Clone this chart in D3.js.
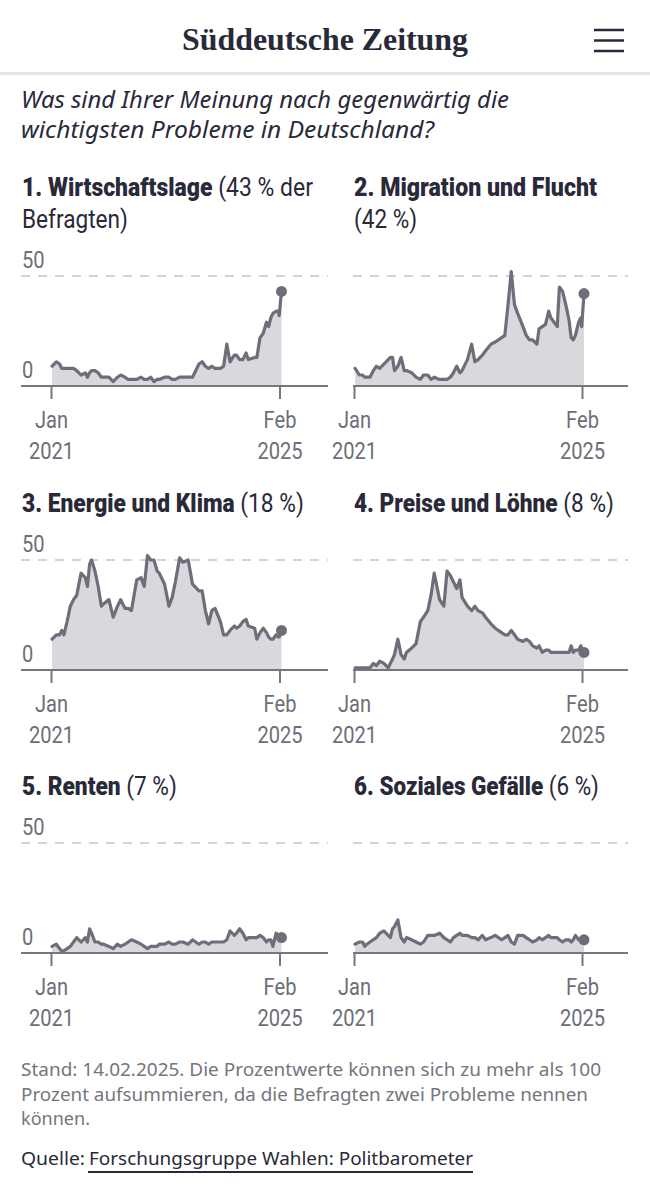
<!DOCTYPE html>
<html><head><meta charset="utf-8">
<script src="https://cdn.jsdelivr.net/npm/d3@7"></script>
<style>
html,body{margin:0;padding:0;background:#fff;}
svg{display:block;}
</style></head><body>
<svg id="c" width="650" height="1199"></svg>
<script>
// ---- data (Politbarometer survey dates, share of respondents in %) ----
const dates = [
 "2021-01-08","2021-02-05","2021-02-26","2021-03-12","2021-03-26","2021-04-16","2021-05-07","2021-05-28","2021-06-18","2021-07-16","2021-08-13","2021-08-27","2021-09-10","2021-09-23","2021-10-15","2021-11-05","2021-11-26","2021-12-10",
 "2022-01-14","2022-02-11","2022-03-11","2022-04-01","2022-04-29","2022-05-20","2022-06-10","2022-07-15","2022-08-12","2022-09-02","2022-09-23","2022-10-14","2022-11-04","2022-11-25","2022-12-09",
 "2023-01-13","2023-02-10","2023-03-03","2023-03-24","2023-04-21","2023-05-12","2023-06-16","2023-07-14","2023-08-25","2023-09-15","2023-10-06","2023-10-27","2023-11-17","2023-12-08",
 "2024-01-12","2024-02-02","2024-02-23","2024-03-15","2024-04-12","2024-04-26","2024-05-17","2024-06-07","2024-06-28","2024-07-12","2024-08-23","2024-09-06","2024-09-27","2024-10-18","2024-11-08","2024-11-22","2024-12-06","2024-12-20",
 "2025-01-10","2025-01-24","2025-01-30","2025-02-14"
];
const wirtschaftslage = [9,11,10,8,8,8,8,8,7,5,6,4,6,7,7,6,4,4, 4,2,4,5,4,3,3,3,4,3,3,4,2,3,3, 4,4,3,3,4,4,4,4,10,11,9,8,9,8, 8,9,19,11,14,14,12,12,15,12,13,13,22,24,29,27,31,33, 34,34,32,43];
const migration = [8,5,5,4,4,4,7,9,8,10,12,13,13,7,9,13,7,7, 6,4,3,5,5,3,4,3,3,3,4,6,9,6,7, 12,19,11,12,14,16,19,20,22,23,37,52,37,33, 27,23,21,21,19,26,27,28,34,31,27,45,43,37,30,22,21,23, 29,31,27,42];
const energieKlima = [14,16,16,18,16,22,29,32,34,44,42,38,48,50,45,38,29,30, 32,24,29,32,28,28,27,41,42,38,52,50,50,45,44, 39,29,33,40,51,49,50,39,36,36,27,21,27,28, 22,16,16,18,20,19,20,22,23,20,19,14,17,19,17,15,14,14, 16,15,15,18];
const preiseLoehne = [1,1,1,1,1,1,3,2,4,3,1,3,5,7,14,7,5,8, 10,12,22,24,27,34,44,32,29,45,43,40,37,41,33, 29,27,29,27,26,24,21,19,17,16,16,18,16,14, 13,14,13,11,10,11,8,9,9,8,8,8,8,8,8,11,8,9, 9,11,10,8];
const renten = [3,4,2,1,1,2,3,5,7,5,7,5,11,9,5,5,4,4, 3,2,4,3,4,5,6,5,4,3,2,3,3,3,4, 4,5,4,4,5,5,4,6,4,5,5,4,5,5, 5,5,6,10,8,9,11,9,6,7,7,7,8,7,5,6,6,3, 9,8,7,7];
const sozialesGefaelle = [4,5,5,3,4,5,6,7,9,10,8,7,11,12,15,7,5,7, 6,5,4,5,8,8,8,9,7,6,5,7,8,9,8, 8,7,7,6,8,6,7,8,6,7,8,5,4,8, 8,7,6,5,6,7,6,7,8,7,7,6,5,6,6,5,6,8, 6,6,7,6];

const yTicks = [0, 50];
const xTickDates = ["2021-01-01", "2025-02-01"];
const xTickLabels = [["Jan","2021"],["Feb","2025"]];

const seriesList = [wirtschaftslage, migration, energieKlima, preiseLoehne, renten, sozialesGefaelle];
const titles = [
  [[["1. Wirtschaftslage",true],[" (43 % der",false]], [["Befragten)",false]]],
  [[["2. Migration und Flucht",true]], [["(42 %)",false]]],
  [[["3. Energie und Klima",true],[" (18 %)",false]]],
  [[["4. Preise und Löhne",true],[" (8 %)",false]]],
  [[["5. Renten",true],[" (7 %)",false]]],
  [[["6. Soziales Gefälle",true],[" (6 %)",false]]]
];
const titleWidths = [[291,106],[243,63],[282],[260],[155],[245]];

// ---- styling / layout ----
const COND = '"Roboto","DejaVu Sans",sans-serif';
const SANS = '"Noto Sans","Open Sans",sans-serif';
const DARK = "#29293a";
const GREY_TXT = "#6e6e78";
const LINE = "#6f6d7a";
const FILL = "#d9d8dd";
const SQUEEZE = 0.82;

const parse = d3.utcParse("%Y-%m-%d");
const pDates = dates.map(parse);

const svg = d3.select("#c");

// condensed text helper: draws text then compresses horizontally
function condText(parent, x, y, opts, segments) {
  const g = parent.append("g");
  const t = g.append("text").attr("x", 0).attr("y", 0)
    .attr("font-family", COND).attr("font-size", opts.size).attr("fill", opts.fill)
    .attr("text-anchor", opts.anchor || "start");
  segments.forEach(([s, b]) => t.append("tspan").attr("font-weight", b ? 900 : "normal").text(s));
  const w = t.node().getComputedTextLength();
  const k = opts.width ? opts.width / w : (opts.k || SQUEEZE);
  g.attr("transform", `translate(${x},${y}) scale(${k},1)`);
  return g;
}

// header
svg.append("text").attr("x", 325).attr("y", 50).attr("text-anchor","middle")
  .attr("font-family",'"Liberation Serif","DejaVu Serif",serif').attr("font-weight","bold")
  .attr("font-size", 32).attr("fill", DARK)
  .attr("textLength", 286).attr("lengthAdjust","spacingAndGlyphs")
  .text("Süddeutsche Zeitung");
[30, 40.5, 51].forEach(y => svg.append("line").attr("x1",594).attr("x2",624).attr("y1",y).attr("y2",y)
  .attr("stroke",DARK).attr("stroke-width",2.5));
svg.append("rect").attr("x",0).attr("y",72).attr("width",650).attr("height",3).attr("fill","#e4e4e6");

// question
[["Was sind Ihrer Meinung nach gegenwärtig die", 108, 488],
 ["wichtigsten Probleme in Deutschland?", 138, 413]].forEach(([s, y, w]) =>
  svg.append("text").attr("x", 21).attr("y", y).attr("font-family", SANS).attr("font-style","italic")
    .attr("font-size", 23).attr("fill", DARK).attr("textLength", w).attr("lengthAdjust","spacingAndGlyphs").text(s));

// panels
const cols = [{x0:21, jan:51, feb:279.5, x1:328, labels:true},
              {x0:353, jan:354, feb:582, x1:628, labels:false}];
const axisYs = [386, 670, 953];

seriesList.forEach((vals, i) => {
  const c = cols[i % 2];
  const base = axisYs[Math.floor(i / 2)];
  const g = svg.append("g");
  const x = d3.scaleUtc().domain(xTickDates.map(parse)).range([c.jan, c.feb]);
  const y = d3.scaleLinear().domain([0, 50]).range([base, base - 110]);

  // title
  const tl = titles[i];
  const lastBase = y(50) - 48;
  tl.forEach((line, li) => {
    condText(g, c.x0 + 1, lastBase - (tl.length - 1 - li) * 32,
      {size: 25, fill: DARK, width: titleWidths[i][li]}, line);
  });

  // gridline at 50 (dashed)
  g.append("line").attr("x1", c.x0).attr("x2", c.x1).attr("y1", y(50)).attr("y2", y(50))
    .attr("stroke", "#c6c6cb").attr("stroke-width", 1.6).attr("stroke-dasharray", "9,8");

  if (c.labels) {
    yTicks.forEach(v => condText(g, c.x0 + 1, y(v) - 8, {size: 24.5, fill: GREY_TXT}, [[String(v), false]]));
  }

  // area + line
  const pts = vals.map((v, k) => [pDates[k], v]);
  g.append("path").datum(pts).attr("fill", FILL)
    .attr("d", d3.area().x(d => x(d[0])).y0(y(0)).y1(d => y(d[1])));
  g.append("path").datum(pts).attr("fill", "none").attr("stroke", LINE).attr("stroke-width", 3.2)
    .attr("stroke-linejoin", "round").attr("stroke-linecap", "round")
    .attr("d", d3.line().x(d => x(d[0])).y(d => y(d[1])));
  const last = pts[pts.length - 1];
  g.append("circle").attr("cx", x(last[0])).attr("cy", y(last[1])).attr("r", 5.5).attr("fill", LINE);

  // baseline
  g.append("line").attr("x1", c.x0).attr("x2", c.x1).attr("y1", base).attr("y2", base)
    .attr("stroke", "#77767f").attr("stroke-width", 2);

  // x axis ticks
  const ax = g.append("g").attr("transform", `translate(0,${base})`)
    .call(d3.axisBottom(x).tickValues(xTickDates.map(parse)).tickSize(13).tickFormat(() => ""));
  ax.select(".domain").remove();
  ax.selectAll(".tick line").attr("stroke", "#77767f").attr("stroke-width", 2);
  ax.selectAll(".tick text").remove();
  ax.selectAll(".tick").each(function(d, k) {
    const tg = d3.select(this);
    condText(tg, 0, 42, {size: 24.5, fill: GREY_TXT, anchor: "middle"}, [[xTickLabels[k][0], false]]);
    condText(tg, 0, 73, {size: 24.5, fill: GREY_TXT, anchor: "middle"}, [[xTickLabels[k][1], false]]);
  });
});

// footer
[["Stand: 14.02.2025. Die Prozentwerte können sich zu mehr als 100", 1076, 580],
 ["Prozent aufsummieren, da die Befragten zwei Probleme nennen", 1100.5, 567],
 ["können.", 1125, 69]].forEach(([s, y, w]) =>
  svg.append("text").attr("x", 21).attr("y", y).attr("font-family", SANS).attr("font-size", 18.5)
    .attr("fill", "#75757d").attr("textLength", w).attr("lengthAdjust", "spacingAndGlyphs").text(s));
svg.append("text").attr("x", 21).attr("y", 1165).attr("font-family", SANS).attr("font-size", 18.5)
  .attr("fill", DARK).attr("textLength", 64).attr("lengthAdjust", "spacingAndGlyphs").text("Quelle:");
svg.append("text").attr("x", 89).attr("y", 1165).attr("font-family", SANS).attr("font-size", 18.5)
  .attr("fill", DARK).attr("textLength", 384).attr("lengthAdjust", "spacingAndGlyphs")
  .text("Forschungsgruppe Wahlen: Politbarometer");
svg.append("line").attr("x1", 88).attr("x2", 473).attr("y1", 1172).attr("y2", 1172)
  .attr("stroke", DARK).attr("stroke-width", 1.8);
</script>
</body></html>
